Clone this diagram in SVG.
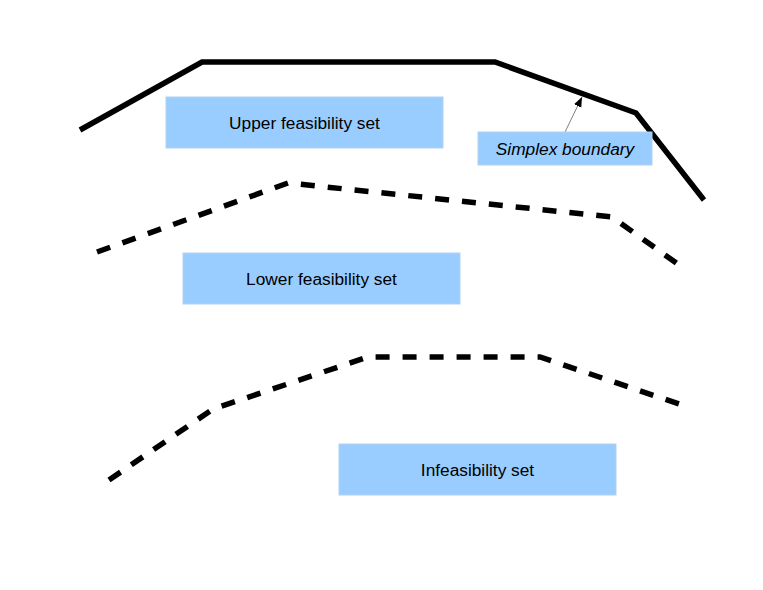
<svg xmlns="http://www.w3.org/2000/svg" width="763" height="590" viewBox="0 0 763 590">
<style>
.box{fill:#99ccff;stroke:#b3d1ee;stroke-width:1}
.lbl{font-family:"Liberation Sans",Arial,sans-serif;font-size:17.3px;fill:#000;text-anchor:middle}
.solid{fill:none;stroke:#000;stroke-width:5.5;stroke-linejoin:miter}
.dash{fill:none;stroke:#000;stroke-width:5.5;stroke-dasharray:14 13}
</style>
<defs>
<marker id="ah" viewBox="0 0 10 10" refX="10" refY="5" markerWidth="10" markerHeight="10" markerUnits="userSpaceOnUse" orient="auto">
<path d="M0,1 L10,5 L0,9 Z" fill="#000"/>
</marker>
</defs>
<rect width="763" height="590" fill="#fff"/>
<g id="connectors">
<polyline class="solid" points="80,130 202,62 495,62 636,113 704,200"/>
<polyline class="dash" points="97,252 288,183 612,217 686,270"/>
<polyline class="dash" points="109,480 213,409 368,357 540,357 688,407"/>
<line x1="565" y1="132" x2="582" y2="97" stroke="#808080" stroke-width="1" marker-end="url(#ah)"/>
</g>
<g id="upper">
<rect class="box" x="166" y="97" width="277" height="51"/>
<text class="lbl" x="304.5" y="129">Upper feasibility set</text>
</g>
<g id="simplex">
<rect class="box" x="478" y="132" width="174" height="33"/>
<text class="lbl" x="565" y="155" font-style="italic">Simplex boundary</text>
</g>
<g id="lower">
<rect class="box" x="183" y="253" width="277" height="51"/>
<text class="lbl" x="321.5" y="285">Lower feasibility set</text>
</g>
<g id="infeasibility">
<rect class="box" x="339" y="444" width="277" height="51"/>
<text class="lbl" x="477.5" y="476">Infeasibility set</text>
</g>
</svg>
